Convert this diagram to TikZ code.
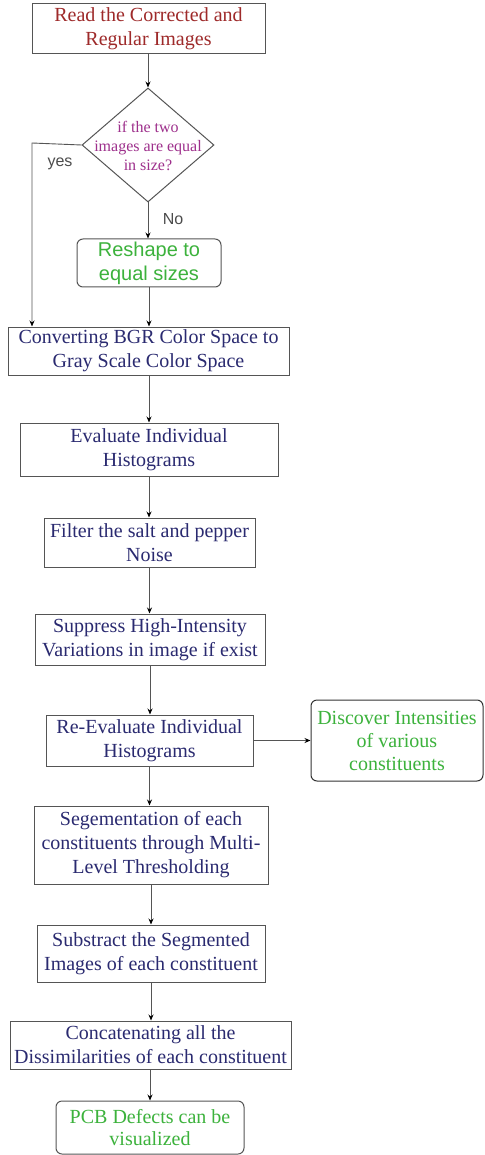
\documentclass[tikz,border=0pt]{standalone}
\usepackage{fontspec}
\setmainfont{Liberation Serif}
\setsansfont{Liberation Sans}
\usetikzlibrary{shapes.geometric,arrows.meta}
\definecolor{navy}{RGB}{42,42,112}
\definecolor{redbr}{RGB}{158,42,42}
\definecolor{magt}{RGB}{158,48,140}
\definecolor{grn}{RGB}{60,178,60}
\definecolor{lin}{RGB}{85,85,85}
\begin{document}
\begin{tikzpicture}[x=1pt,y=-1pt,
  box/.style={draw=lin,line width=1pt,rectangle,inner sep=0pt,align=center,text=navy,
    font=\fontsize{20}{24}\selectfont},
  rbox/.style={draw=black!80,line width=1pt,rectangle,rounded corners=6pt,inner sep=0pt,align=center},
  arr/.style={draw=lin,line width=0.9pt,-{Stealth[length=6pt,width=5pt,color=black]}},
  lbl/.style={font=\sffamily\fontsize{16}{19}\selectfont,text=black!70}]
\useasboundingbox (0,0) rectangle (484,1155);
\fill[white] (0,0) rectangle (484,1155);

\node[box,text=redbr,minimum width=233pt,minimum height=50pt] (b1) at (148.5,29) {Read the Corrected and\\Regular Images};
\node[draw=lin,line width=1pt,diamond,minimum width=132pt,minimum height=114pt,inner sep=0pt] (dia) at (148,145) {};
\node[align=center,text=magt,font=\fontsize{16}{19}\selectfont] (diat) at (148,146) {if the two\\images are equal\\in size?};
\node[rbox,draw=lin,text=grn,font=\sffamily\fontsize{20}{24}\selectfont,minimum width=144pt,minimum height=48pt] (resh) at (149,263) {Reshape to\\equal sizes};
\node[box,minimum width=281pt,minimum height=48pt] (conv) at (148.5,351) {Converting BGR Color Space to\\Gray Scale Color Space};
\node[box,minimum width=258pt,minimum height=53pt] (eval) at (149,449.5) {Evaluate Individual\\Histograms};
\node[box,minimum width=211pt,minimum height=49pt] (filt) at (149.5,542.5) {Filter the salt and pepper\\Noise};
\node[box,minimum width=230pt,minimum height=51pt] (supp) at (150,639.5) {Suppress High-Intensity\\Variations in image if exist};
\node[box,minimum width=207pt,minimum height=51pt] (reev) at (149.5,740.5) {Re-Evaluate Individual\\Histograms};
\node[rbox,text=grn,font=\fontsize{20}{23}\selectfont,minimum width=172pt,minimum height=81pt] (disc) at (397,740.5) {Discover Intensities\\of various\\constituents};
\node[box,minimum width=234pt,minimum height=78pt] (seg) at (151,845) {Segementation of each\\constituents through Multi-\\Level Thresholding};
\node[box,minimum width=228pt,minimum height=57pt] (sub) at (151,953.5) {Substract the Segmented\\Images of each constituent};
\node[box,minimum width=281pt,minimum height=48pt] (conc) at (150.5,1045) {Concatenating all the\\Dissimilarities of each constituent};
\node[rbox,draw=lin,text=grn,font=\fontsize{20}{22}\selectfont,minimum width=188pt,minimum height=53pt] (pcb) at (150,1127.5) {PCB Defects can be\\visualized};

\node[lbl] (yes) at (60,164) {yes};
\node[lbl] (no) at (173,219) {No};

\coordinate (yc) at (32,143);
\draw[arr] (b1.south -| dia.north) -- (dia.north);
\draw[arr] (dia.south) -- (dia.south |- resh.north);
\draw[arr] (dia.west) -- (yc) -- (yc |- conv.north);
\draw[arr] (resh.south) -- (resh.south |- conv.north);
\draw[arr] (conv.south -| eval.north) -- (eval.north);
\draw[arr] (eval.south) -- (eval.south |- filt.north);
\draw[arr] (filt.south) -- (filt.south |- supp.north);
\draw[arr] (supp.south) -- (supp.south |- reev.north);
\draw[arr] (reev.east) -- (reev.east -| disc.west);
\draw[arr] (reev.south) -- (reev.south |- seg.north);
\draw[arr] (seg.south) -- (seg.south |- sub.north);
\draw[arr] (sub.south) -- (sub.south |- conc.north);
\draw[arr] (conc.south -| pcb.north) -- (pcb.north);
\end{tikzpicture}
\end{document}
